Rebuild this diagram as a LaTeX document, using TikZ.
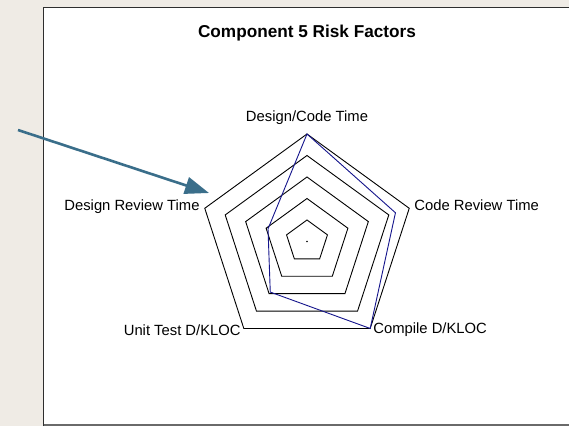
\documentclass[tikz,border=0pt]{standalone}
\usepackage{fontspec}
\setmainfont{Liberation Sans}
\usetikzlibrary{arrows.meta}
\definecolor{pagebg}{HTML}{EFEBE5}
\definecolor{frameline}{HTML}{2E2E2E}
\definecolor{frameshade}{HTML}{6A6A6A}
\definecolor{pointer}{HTML}{3A6E8A}
\definecolor{series}{HTML}{14148C}
\tikzset{
  axislabel/.style={font=\fontsize{14.8}{16}\selectfont, inner sep=0pt},
  charttitle/.style={font=\fontsize{17.2}{19}\selectfont\bfseries, inner sep=0pt},
  ring/.style={draw=black, line width=0.9pt, line join=miter},
  seriesline/.style={draw=series, line width=0.9pt, line join=miter},
  pointerarrow/.style={draw=pointer, line width=2.6pt,
    -{Triangle[length=24pt, width=17pt]}}
}
\begin{document}
\begin{tikzpicture}[x=1pt, y=-1pt]
  \useasboundingbox (0,0) rectangle (569,426);
  % page and chart panel
  \fill[pagebg] (0,0) rectangle (569,426);
  \fill[white] (43.5,7.5) rectangle (569,425);
  \draw[frameline, line width=1.6pt] (43.5,426) -- (43.5,7.5) -- (569,7.5);
  \draw[frameshade, line width=1.4pt] (43.5,425) -- (569,425);

  % title
  \node[charttitle] (title) at (307,33) {Component 5 Risk Factors};

  % radar grid
  \coordinate (C) at (307,241.5);
  \begin{scope}[shift={(C)}]
    \foreach \k in {1,...,5} {
      \pgfmathsetmacro{\r}{21.5*\k}
      \draw[ring] (90:\r pt) -- (18:\r pt) -- (-54:\r pt) -- (-126:\r pt) -- (162:\r pt) -- cycle;
    }
    \coordinate (vA) at (90:107.5pt);
    \coordinate (vB) at (18:107.5pt);
    \coordinate (vC) at (-54:107.5pt);
    \coordinate (vD) at (-126:107.5pt);
    \coordinate (vE) at (162:107.5pt);
    % data series
    \coordinate (sA) at (90:107.5pt);
    \coordinate (sB) at (18:93pt);
    \coordinate (sC) at (-54:107.5pt);
    \coordinate (sD) at (-126:62.5pt);
    \coordinate (sE) at (162:41pt);
    \draw[seriesline] (sA) -- (sB) -- (sC) -- (sD) -- (sE) -- cycle;
  \end{scope}
  \fill[black] (C) circle (0.9pt);

  % axis labels
  \node[axislabel, anchor=south] (labA) at ([yshift=9pt]vA) {Design/Code Time};
  \node[axislabel, anchor=west] (labB) at ([xshift=5pt, yshift=3pt]vB) {Code Review Time};
  \node[axislabel, anchor=west] (labC) at ([xshift=3pt, yshift=-1.5pt]vC) {Compile D/KLOC};
  \node[axislabel, anchor=east] (labD) at ([xshift=-3pt, yshift=-1.5pt]vD) {Unit Test D/KLOC};
  \node[axislabel, anchor=east] (labE) at ([xshift=-5pt, yshift=2pt]vE) {Design Review Time};

  % pointer arrow
  \coordinate (ptrStart) at (18,130);
  \coordinate (ptrEnd) at (209,193);
  \draw[pointerarrow] (ptrStart) -- (ptrEnd);
\end{tikzpicture}
\end{document}
